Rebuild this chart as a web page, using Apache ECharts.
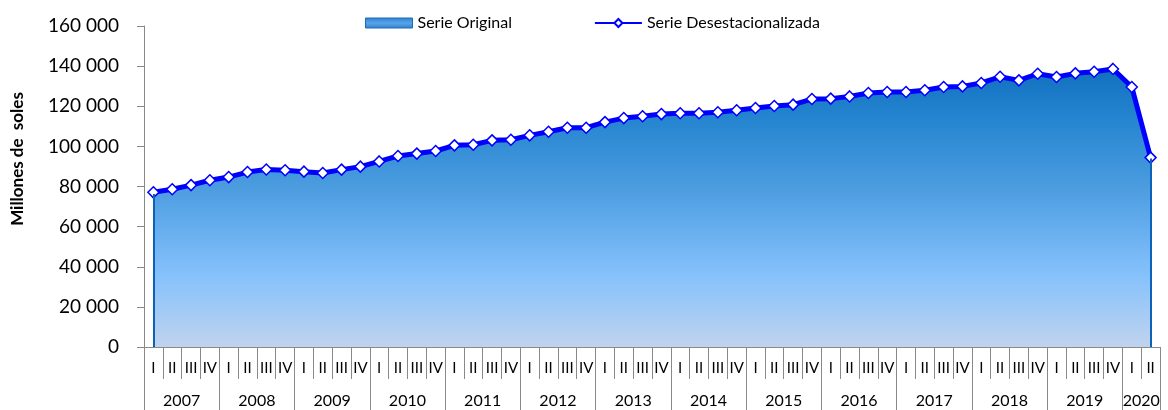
<!DOCTYPE html>
<html>
<head>
<meta charset="utf-8">
<script src="https://cdn.jsdelivr.net/npm/echarts@6/dist/echarts.min.js"></script>
<style>
    html, body { margin: 0; padding: 0; background: #fff; }
    #chart { width: 1168px; height: 410px; }
</style>
</head>
<body>
<div id="chart"></div>
<script>
// datos trimestrales (millones de soles)
var years = ['2007', '2008', '2009', '2010', '2011', '2012', '2013', '2014', '2015', '2016', '2017', '2018', '2019', '2020'];
var quartersPerYear = [4, 4, 4, 4, 4, 4, 4, 4, 4, 4, 4, 4, 4, 2];
var quarterNames = ['I', 'II', 'III', 'IV'];

var serieOriginal = [
    76300, 78900, 80300, 83300, 84200, 87500, 88000, 88300, 87000, 86900, 88100, 90200,
    92000, 95400, 96000, 98000, 100000, 101100, 102600, 103600, 105000, 107600, 109000, 109700,
    111700, 114400, 114600, 116400, 116000, 116800, 116600, 118300, 118700, 120400, 120300, 123900,
    123400, 125200, 126200, 127400, 126600, 128300, 129200, 130300, 130900, 135100, 132400, 136600,
    134100, 136700, 136800, 139000, 129000, 94000
];
var serieDesestacionalizada = [
    77100, 78600, 80700, 83100, 84700, 87200, 88500, 88100, 87400, 86700, 88400, 89900,
    92500, 95200, 96400, 97700, 100500, 100800, 103000, 103300, 105500, 107300, 109300, 109300,
    112100, 114100, 115000, 116100, 116500, 116500, 117000, 118000, 119100, 120100, 120800, 123600,
    123800, 124900, 126600, 127100, 127100, 128000, 129600, 129900, 131600, 134700, 132900, 136200,
    134600, 136400, 137200, 138600, 129600, 94400
];

var categories = [];
var yearBounds = [];
var yearCenters = [];
var pos = 0;
years.forEach(function (y, i) {
    yearBounds.push(pos);
    yearCenters.push(pos + quartersPerYear[i] / 2);
    for (var q = 0; q < quartersPerYear[i]; q++) {
        categories.push(quarterNames[q]);
    }
    pos += quartersPerYear[i];
});
yearBounds.push(pos);
var nCat = categories.length;
var lastIdx = nCat - 1;

var font = 'Lato';
var gray = '#898989';

var areaGradient = new echarts.graphic.LinearGradient(0, 26, 0, 347, [
    { offset: 0, color: '#0862b6' },
    { offset: 0.1, color: '#0c6cbc' },
    { offset: 0.29, color: '#2585d0' },
    { offset: 0.51, color: '#4d9de0' },
    { offset: 0.63, color: '#66aeee' },
    { offset: 0.78, color: '#86c2fc' },
    { offset: 1, color: '#c0d3ee' }
], true);

var legendGradient = new echarts.graphic.LinearGradient(0, 0, 0, 1, [
    { offset: 0, color: '#2a7fd0' },
    { offset: 0.5, color: '#5aa3e8' },
    { offset: 1, color: '#2f82cf' }
]);

var div = document.getElementById('chart');
var myChart = echarts.init(div, null, { renderer: 'canvas' });

var option = {
    animation: false,
    backgroundColor: '#fff',
    textStyle: { fontFamily: font },
    legend: {
        left: 360,
        top: 10,
        itemGap: 82,
        itemWidth: 47,
        itemHeight: 10,
        textStyle: { fontFamily: font, fontSize: 16, color: '#000' },
        data: [
            { name: 'Serie Original', icon: 'rect', itemStyle: { color: legendGradient, borderColor: '#1d6cb6', borderWidth: 1 } },
            { name: 'Serie Desestacionalizada' }
        ]
    },
    graphic: [{
        type: 'text',
        x: 18,
        y: 159,
        rotation: Math.PI / 2,
        style: {
            text: 'Millones de  soles',
            font: 'bold 17px Lato',
            fill: '#000',
            textAlign: 'center',
            textVerticalAlign: 'middle'
        }
    }],
    grid: { left: 144, right: 8, top: 26, bottom: 63 },
    xAxis: [
        {
            type: 'category',
            data: categories,
            boundaryGap: true,
            position: 'bottom',
            axisLine: { lineStyle: { color: gray, width: 1 } },
            axisTick: { inside: true, length: 5, interval: 0, lineStyle: { color: gray } },
            axisLabel: { interval: 0, margin: 14, fontFamily: font, fontSize: 15, color: '#000' }
        },
        {
            type: 'value',
            min: 0,
            max: nCat,
            interval: 1,
            position: 'bottom',
            offset: 0,
            axisLine: { show: false },
            axisTick: { show: true, length: 32, lineStyle: { color: gray } },
            axisLabel: { show: false },
            splitLine: { show: false }
        },
        {
            type: 'value',
            min: 0,
            max: nCat,
            position: 'bottom',
            offset: 0,
            axisLine: { show: false },
            axisTick: { show: true, length: 63, customValues: yearBounds, lineStyle: { color: gray } },
            axisLabel: {
                customValues: yearCenters,
                margin: 46,
                fontFamily: font,
                fontSize: 16,
                color: '#000',
                formatter: function (v) {
                    for (var i = 0; i < yearCenters.length; i++) {
                        if (Math.abs(yearCenters[i] - v) < 0.01) return years[i];
                    }
                    return '';
                }
            },
            splitLine: { show: false }
        }
    ],
    yAxis: {
        type: 'value',
        min: 0,
        max: 160000,
        interval: 20000,
        axisLine: { show: true, lineStyle: { color: gray } },
        axisTick: { show: true, length: 7, lineStyle: { color: gray } },
        splitLine: { show: false },
        axisLabel: {
            margin: 25,
            fontFamily: font,
            fontSize: 19,
            color: '#000',
            formatter: function (v) {
                return String(v).replace(/\B(?=(\d{3})+(?!\d))/g, ' ');
            }
        }
    },
    series: [
        {
            name: 'Serie Original',
            type: 'line',
            data: serieOriginal,
            symbol: 'none',
            z: 1,
            lineStyle: { color: '#1a86c2', width: 1.5 },
            itemStyle: { color: '#3a8edb' },
            areaStyle: { color: areaGradient, opacity: 1 },
            markLine: {
                silent: true,
                symbol: ['none', 'none'],
                label: { show: false },
                lineStyle: { color: '#0b62b8', width: 2, type: 'solid' },
                data: [
                    [{ coord: [0, 0] }, { coord: [0, serieOriginal[0]] }],
                    [{ coord: [lastIdx, 0] }, { coord: [lastIdx, serieOriginal[lastIdx]] }]
                ]
            }
        },
        {
            name: 'Serie Desestacionalizada',
            type: 'line',
            data: serieDesestacionalizada,
            symbol: 'diamond',
            symbolSize: 11,
            z: 3,
            lineStyle: { color: '#0000ff', width: 5 },
            itemStyle: { color: '#ffffff', borderColor: '#0000ff', borderWidth: 1.5 }
        }
    ]
};

myChart.setOption(option);
window.addEventListener('resize', myChart.resize);
</script>
</body>
</html>
